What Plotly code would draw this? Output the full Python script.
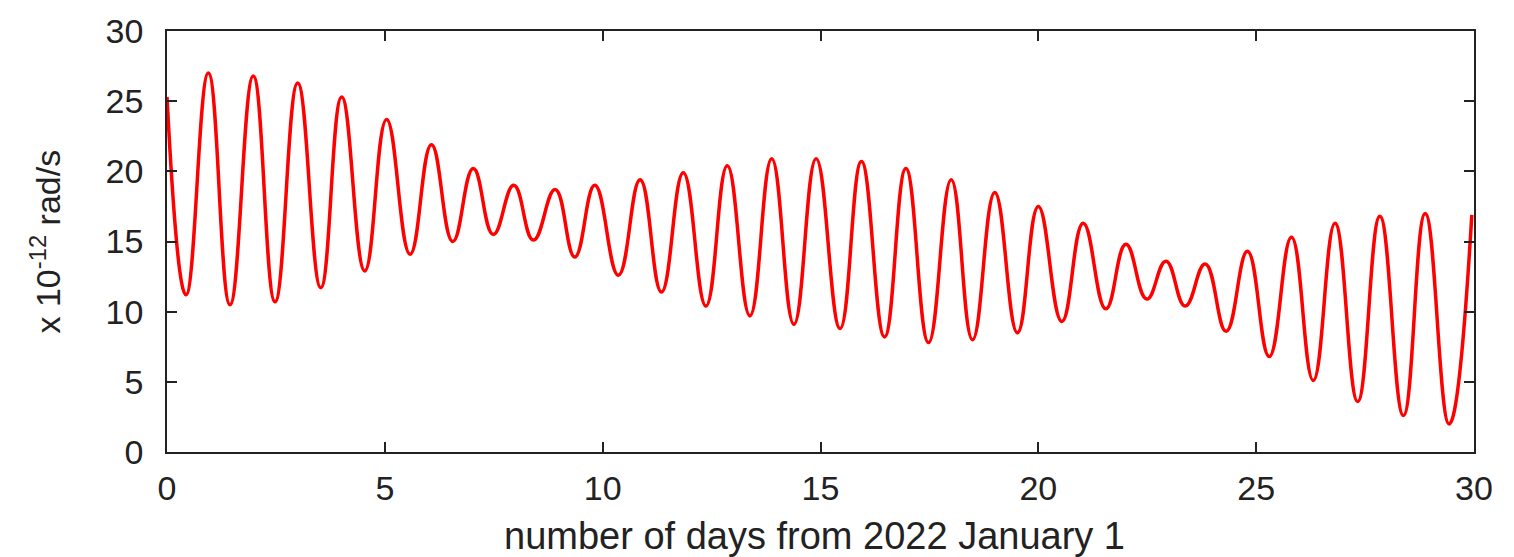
import plotly.graph_objects as go

# Turning points (days, value in 1e-12 rad/s)
days = [0, 0.436, 0.949, 1.446, 1.98, 2.48, 3.0, 3.53, 4.01, 4.54, 5.04, 5.58,
        6.07, 6.56, 7.03, 7.49, 7.96, 8.41, 8.91, 9.36, 9.82, 10.36, 10.86,
        11.35, 11.85, 12.37, 12.86, 13.38, 13.88, 14.39, 14.9, 15.45, 15.94,
        16.47, 16.96, 17.48, 18.0, 18.49, 19.0, 19.52, 20.0, 20.54, 21.03,
        21.55, 22.01, 22.49, 22.93, 23.37, 23.83, 24.31, 24.8, 25.3, 25.81,
        26.31, 26.81, 27.33, 27.84, 28.38, 28.88, 29.43, 29.95]
values = [25.3, 11.2, 27.0, 10.5, 26.8, 10.7, 26.3, 11.7, 25.3, 12.9, 23.7, 14.1,
          21.9, 15.0, 20.2, 15.5, 19.0, 15.1, 18.7, 13.9, 19.0, 12.6, 19.4,
          11.4, 19.9, 10.4, 20.4, 9.7, 20.9, 9.1, 20.9, 8.8, 20.7,
          8.2, 20.2, 7.8, 19.4, 8.0, 18.5, 8.5, 17.5, 9.3, 16.3,
          10.2, 14.8, 10.9, 13.6, 10.4, 13.4, 8.6, 14.3, 6.8, 15.3,
          5.1, 16.3, 3.6, 16.8, 2.6, 17.0, 2.0, 16.9]

tick_vals = [0, 5, 10, 15, 20, 25, 30]
x_title = "number of days from 2022 January 1"
y_title = "x 10<sup>-12</sup> rad/s"

font_family = "Liberation Sans, Arial, sans-serif"
ink = "#222222"

fig = go.Figure()
fig.add_trace(go.Scatter(
    x=days, y=values, mode="lines",
    line=dict(color="#ff0000", width=3.5, shape="spline", smoothing=1.3),
    showlegend=False,
))

axis_common = dict(
    showline=True, linecolor=ink, linewidth=1.5, mirror="ticks",
    ticks="inside", ticklen=10, tickwidth=1.5, tickcolor=ink,
    showgrid=False, zeroline=False, automargin=False,
    tickfont=dict(family=font_family, size=34, color=ink),
    tickvals=tick_vals, range=[0, 30],
)

# page body has an 8px margin, so the figure is sized/offset to compensate
fig.update_layout(
    width=1506, height=549,
    margin=dict(l=159, r=40, t=23, b=105),
    paper_bgcolor="white", plot_bgcolor="white",
    font=dict(family=font_family, color=ink),
    xaxis=dict(**axis_common, ticklabelstandoff=5),
    yaxis=dict(**axis_common, ticklabelstandoff=15),
    annotations=[
        dict(text=x_title, xref="paper", yref="paper", x=0.5, y=0,
             xanchor="center", yanchor="middle", yshift=-84, xshift=-6,
             showarrow=False,
             font=dict(family=font_family, size=38, color=ink)),
        dict(text=y_title, xref="paper", yref="paper", x=0, y=0.5,
             xanchor="center", yanchor="middle", xshift=-122, textangle=-90,
             showarrow=False, font=dict(family=font_family, size=34, color=ink)),
    ],
)

fig.write_html("out.html")
